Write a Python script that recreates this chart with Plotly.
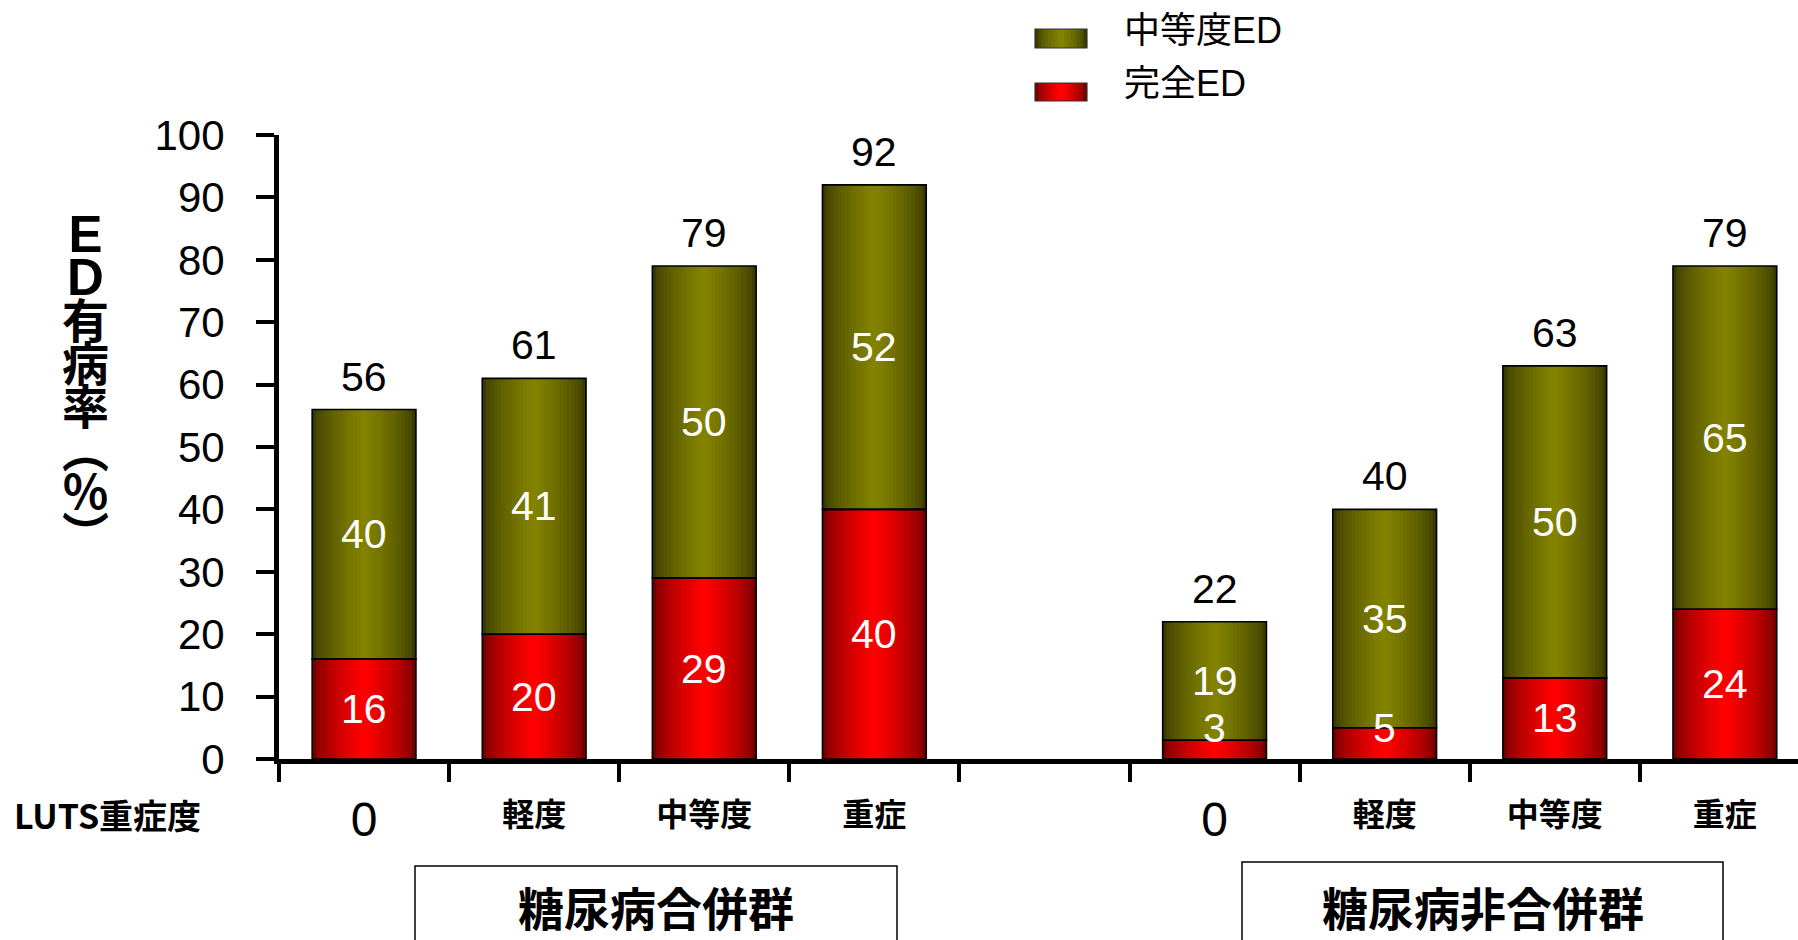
import plotly.graph_objects as go

# ---------------- data ----------------
categories = ["0", "軽度", "中等度", "重症"]
groups = ["糖尿病合併群", "糖尿病非合併群"]
complete_ed = [16, 20, 29, 40, 3, 5, 13, 24]          # 完全ED (red)
moderate_ed_label = [40, 41, 50, 52, 19, 35, 50, 65]  # 中等度ED labels (olive)
total_ed = [56, 61, 79, 92, 22, 40, 63, 79]           # totals above bars
series_names = ["中等度ED", "完全ED"]
y_title = "ED有病率（%）"
x_title = "LUTS重症度"
y_ticks = [0, 10, 20, 30, 40, 50, 60, 70, 80, 90, 100]

# ---------------- layout constants ----------------
W, H = 1798, 940
ML, MR, MT, MB = 279, 0, 135, 181
PW, PH = W - ML - MR, H - MT - MB

NUM_FONT = "Liberation Sans, Arial, sans-serif"
CJK_FONT = "Noto Sans CJK JP, sans-serif"
MIX_FONT = "Liberation Sans, Noto Sans CJK JP, sans-serif"

def px_x(px):
    return (px - ML) / PW

def px_y(py):
    return (H - MB - py) / PH

# x positions: 4 categories per group with an empty slot between groups
x_pos = [g * (len(categories) + 1) + i for g in range(len(groups)) for i in range(len(categories))]
x_text = [c for _ in groups for c in categories]
moderate_height = [t - c for t, c in zip(total_ed, complete_ed)]
X_RANGE = [-0.5, 8.43]

BAR_W = 0.61
K = 14
RED_EDGE, RED_MID = (0x72, 0x00, 0x00), (0xFF, 0x00, 0x00)
OLV_EDGE, OLV_MID = (0x3A, 0x3A, 0x00), (0x82, 0x82, 0x00)

def lerp(c1, c2, t):
    return "rgb(%d,%d,%d)" % tuple(round(a + (b - a) * t) for a, b in zip(c1, c2))

fig = go.Figure()

# gradient layers (outer = dark, inner = bright)
for k in range(K):
    t = (k / (K - 1)) ** 0.65
    w = BAR_W * (1 - k / K)
    fig.add_trace(go.Bar(x=x_pos, y=complete_ed, base=[0] * len(x_pos), width=w,
                         marker=dict(color=lerp(RED_EDGE, RED_MID, t), line=dict(width=0)),
                         showlegend=False, hoverinfo="skip", name=series_names[1]))
    fig.add_trace(go.Bar(x=x_pos, y=moderate_height, base=complete_ed, width=w,
                         marker=dict(color=lerp(OLV_EDGE, OLV_MID, t), line=dict(width=0)),
                         showlegend=False, hoverinfo="skip", name=series_names[0]))

# outlines
fig.add_trace(go.Bar(x=x_pos, y=complete_ed, base=[0] * len(x_pos), width=BAR_W,
                     marker=dict(color="rgba(0,0,0,0)", line=dict(color="black", width=1.6)),
                     showlegend=False, hoverinfo="skip", name=series_names[1]))
fig.add_trace(go.Bar(x=x_pos, y=moderate_height, base=complete_ed, width=BAR_W,
                     marker=dict(color="rgba(0,0,0,0)", line=dict(color="black", width=1.6)),
                     showlegend=False, hoverinfo="skip", name=series_names[0]))

# tick labels: word categories on main axis, numeric "0" categories on an overlay axis
word_vals = [x for x, c in zip(x_pos, x_text) if c != "0"]
word_text = ["<b>%s</b>" % c for c in x_text if c != "0"]
zero_vals = [x for x, c in zip(x_pos, x_text) if c == "0"]
zero_text = [c for c in x_text if c == "0"]

# invisible carrier so the overlay axis for the "0" labels is drawn
fig.add_trace(go.Scatter(x=zero_vals, y=[0] * len(zero_vals), xaxis="x2", yaxis="y",
                         mode="markers", marker=dict(size=1, opacity=0),
                         showlegend=False, hoverinfo="skip"))

ann = []
# totals above bars
for x, t in zip(x_pos, total_ed):
    ann.append(dict(x=x, y=t, text=str(t), xref="x", yref="y", showarrow=False,
                    yanchor="bottom", yshift=8, font=dict(family=NUM_FONT, size=41, color="black")))
# values inside segments
for x, c, h, lab in zip(x_pos, complete_ed, moderate_height, moderate_ed_label):
    ann.append(dict(x=x, y=max(c / 2, 5), text=str(c), xref="x", yref="y", showarrow=False,
                    yanchor="middle", font=dict(family=NUM_FONT, size=41, color="white")))
    ann.append(dict(x=x, y=c + h / 2, text=str(lab), xref="x", yref="y", showarrow=False,
                    yanchor="middle", font=dict(family=NUM_FONT, size=41, color="white")))

# vertical y-axis title: one character per line in a single text
vert_map = {"（": "︵", "）": "︶", "(": "︵", ")": "︶", "%": "％"}
lines = []
for ch in y_title:
    if ch.isascii() and ch.isalpha():
        lines.append('<span style="font-family:Liberation Sans;font-size:51px">%s</span>' % ch)
    else:
        lines.append('<span style="font-size:47px">%s</span>' % vert_map.get(ch, ch))
ann.append(dict(x=px_x(85), y=px_y(386), xref="paper", yref="paper",
                text="<b>" + "<br>".join(lines) + "</b>", showarrow=False,
                xanchor="center", yanchor="middle", align="center",
                font=dict(family=CJK_FONT, size=33, color="black")))

# LUTS label
ann.append(dict(x=px_x(107), y=px_y(814), xref="paper", yref="paper", text="<b>%s</b>" % x_title,
                showarrow=False, xanchor="center", yanchor="middle",
                font=dict(family=CJK_FONT, size=34, color="black")))

shapes = []
# group boxes + names
box_px = [(415, 897, 866), (1242, 1723, 862)]
for (x0, x1, y0), gname in zip(box_px, groups):
    shapes.append(dict(type="rect", xref="paper", yref="paper", x0=px_x(x0), x1=px_x(x1),
                       y0=px_y(y0), y1=px_y(960), line=dict(color="black", width=1.5),
                       fillcolor="rgba(0,0,0,0)", layer="above"))
    ann.append(dict(x=px_x((x0 + x1) / 2), y=px_y(906), xref="paper", yref="paper",
                    text="<b>%s</b>" % gname, showarrow=False, xanchor="center", yanchor="middle",
                    font=dict(family=CJK_FONT, size=46, color="black")))

# manual legend with gradient swatches
legend_items = [(series_names[0], OLV_EDGE, OLV_MID, 29, 48, 31),
                (series_names[1], RED_EDGE, RED_MID, 83, 101, 83)]
LK = 8
for name, ce, cm, y0, y1, ty in legend_items:
    x0, x1 = 1035, 1087
    for k in range(LK):
        t = (k / (LK - 1)) ** 0.65
        inset = (x1 - x0) / 2 * k / LK
        shapes.append(dict(type="rect", xref="paper", yref="paper",
                           x0=px_x(x0 + inset), x1=px_x(x1 - inset), y0=px_y(y1), y1=px_y(y0),
                           line=dict(width=0), fillcolor=lerp(ce, cm, t), layer="above"))
    shapes.append(dict(type="rect", xref="paper", yref="paper", x0=px_x(x0), x1=px_x(x1),
                       y0=px_y(y1), y1=px_y(y0), line=dict(color="#333", width=1.2),
                       fillcolor="rgba(0,0,0,0)", layer="above"))
    ann.append(dict(x=px_x(1122), y=px_y(ty), xref="paper", yref="paper", text=name,
                    showarrow=False, xanchor="left", yanchor="middle",
                    font=dict(family=MIX_FONT, size=36, color="black")))

fig.update_layout(
    width=W, height=H,
    margin=dict(l=ML, r=MR, t=MT, b=MB, pad=0),
    paper_bgcolor="white", plot_bgcolor="white",
    barmode="overlay",
    showlegend=False,
    annotations=ann, shapes=shapes,
    xaxis=dict(range=X_RANGE, tickmode="array", tickvals=word_vals, ticktext=word_text,
               ticks="", showgrid=False, zeroline=False, showline=True, linecolor="black",
               linewidth=5, tickfont=dict(family=CJK_FONT, size=32, color="black"),
               ticklabelstandoff=24,
               minor=dict(tickmode="array",
                          tickvals=[v - 0.5 for v in range(len(categories) * len(groups) + 1)],
                          ticks="outside", ticklen=18, tickwidth=4, tickcolor="black")),
    xaxis2=dict(range=X_RANGE, overlaying="x", anchor="y", side="bottom", tickmode="array",
                tickvals=zero_vals, ticktext=zero_text, ticks="", showgrid=False,
                zeroline=False, showline=False, ticklabelstandoff=28,
                tickfont=dict(family=NUM_FONT, size=48, color="black")),
    yaxis=dict(range=[0, 100], tickmode="array", tickvals=y_ticks, ticks="outside",
               ticklen=18, tickwidth=4, tickcolor="black", showgrid=False, zeroline=False,
               showline=True, linecolor="black", linewidth=5, ticklabelstandoff=23,
               tickfont=dict(family=NUM_FONT, size=42, color="black")),
)

fig.write_html("out.html", config={"displayModeBar": False},
               post_script="document.body.style.margin='0px';")
